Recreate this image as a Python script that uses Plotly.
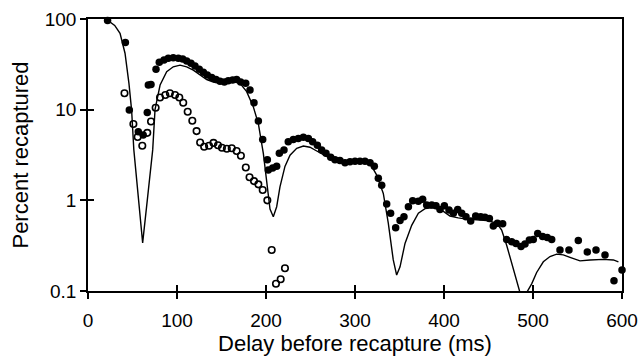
import plotly.graph_objects as go

# Filled circles (measured recapture)
filled_x = [22, 42, 46.4, 56.5, 62, 66.6, 67.8, 70.8, 76.4, 80.1, 85.4, 90.2, 95.8, 101.5, 106.4,
            110.9, 115.7, 120.2, 125, 129.6, 134, 139, 143.8, 148.3, 153.2, 157.6, 162.5, 167,
            171.5, 177.2, 182, 186.5, 191.4, 196.3, 201.5, 202.6, 207.5, 212, 215, 220.2, 225,
            230.7, 236.3, 242, 247.6, 252.4, 257.7, 262.5, 267.4, 272.7, 277.5, 283.1, 288.8,
            294.4, 300, 305.6, 311.2, 316.9, 321.7, 326.2, 330, 335.6, 340, 345.7, 350.6, 355,
            360, 364.8, 371.2, 376, 380.5, 386.2, 391, 395.5, 400.4, 405.6, 410.5, 415.4, 419.9,
            424.7, 430, 435.6, 441.2, 446, 451, 455.4, 460, 465.9, 470.4, 476, 480.9, 486.5,
            491, 495.9, 500.3, 505.3, 510.8, 516, 521, 530.3, 540.4, 550.9, 561, 570.8, 580.9,
            591, 600]
filled_y = [96, 55, 9.9, 5.7, 5.25, 9.3, 18.7, 19, 27.9, 33.3, 35.3, 36.8, 37.3, 36.8, 36.1,
            34.4, 32.5, 30.4, 27.9, 25.8, 24.1, 22.7, 21.5, 20.6, 20.2, 20.8, 21.2, 21.5,
            20.2, 19.5, 16.5, 11.9, 7.5, 4.7, 2.8, 2.16, 2.27, 2.37, 3.3, 3.6, 4.43,
            4.7, 4.8, 4.95, 4.8, 4.43, 4.05, 3.6, 3.3, 2.98, 2.8, 2.75, 2.6,
            2.67, 2.7, 2.7, 2.7, 2.6, 2.37, 1.75, 1.47, 0.91, 0.72, 0.50, 0.6, 0.66,
            0.85, 0.99, 0.98, 1.03, 0.89, 0.89, 0.87, 0.79, 0.87, 0.78, 0.72, 0.79, 0.72,
            0.66, 0.59, 0.67, 0.66, 0.65, 0.63, 0.52, 0.56, 0.55, 0.37, 0.35, 0.335, 0.31,
            0.33, 0.365, 0.37, 0.43, 0.40, 0.39, 0.37, 0.283, 0.283, 0.36, 0.27, 0.283, 0.25,
            0.13, 0.17]

# Open circles
open_x = [41, 51, 55.8, 61, 66.6, 70.8, 76, 80.9, 86.9, 92, 97.8, 102.6, 107, 112, 117.2, 122,
          126, 130.5, 136, 141, 146, 150.5, 156, 161.5, 167, 171.8, 177.3, 181.5, 186.5, 191.4,
          196.3, 201.5, 206.4, 211.2, 216.5, 221.3]
open_y = [15.2, 6.95, 5.0, 4.0, 5.55, 7.4, 10.5, 13.6, 14.5, 15.2, 14.5, 13.6, 11.9, 9.5, 7.55, 5.8,
          4.35, 3.9, 4.0, 4.3, 4.05, 3.8, 3.7, 3.75, 3.5, 3.1, 2.3, 1.8, 1.63, 1.5,
          1.3, 1.0, 0.283, 0.12, 0.135, 0.178]

# Model curve
model_x = [20, 22, 30, 36, 41.6, 46, 49, 51.5, 56.5, 61.4, 66.6, 72.7, 75.3, 81, 88.4, 95.8,
           103.4, 110.9, 118.3, 125.8, 133.4, 140.8, 148.3, 155.8, 163.3, 170.8, 178.3, 185.7,
           191.4, 197, 201.5, 204.5, 208.2, 212, 215.7, 221.3, 227, 234.5, 242, 249.4, 257,
           264.4, 272, 283, 294, 305.6, 316.9, 324.4, 331.8, 337.4, 343, 346.8, 350.6, 356.2,
           363.7, 371.2, 378.7, 388, 397.4, 406.7, 416, 425.5, 436.7, 448, 459.2, 464.8, 470.4,
           476, 481.7, 485.4, 489, 492.9, 498.5, 504.1, 511.6, 519.1, 526.6, 534, 541.6, 552.8,
           564, 579, 590.3, 596]
model_y = [100, 97, 85, 69.5, 41.9, 19.5, 9.9, 3.6, 1.0, 0.34, 1.0, 3.6, 10, 18.7, 26.2, 29.7,
           31, 29.7, 27.3, 24.1, 21.5, 20.2, 19.7, 20.2, 20.8, 19.5, 15.8, 10.8,
           7.0, 3.3, 1.53, 0.8, 0.66, 0.85, 1.41, 2.37, 3.15, 3.75, 3.97, 3.85, 3.5,
           3.2, 2.9, 2.7, 2.67, 2.67, 2.55, 1.9, 1.19, 0.56, 0.22, 0.15, 0.185, 0.335,
           0.53, 0.72, 0.81, 0.83, 0.78, 0.67, 0.64, 0.62, 0.61, 0.60, 0.56, 0.47, 0.32,
           0.2, 0.125, 0.096, 0.085, 0.096, 0.12, 0.16, 0.21, 0.24, 0.255, 0.25, 0.235, 0.215,
           0.22, 0.223, 0.22, 0.21]

x_ticks = [0, 100, 200, 300, 400, 500, 600]
y_ticks = [0.1, 1, 10, 100]
y_ticktext = ["0.1", "1", "10", "100"]

FONT = "Liberation Sans, Arial, Helvetica, sans-serif"

fig = go.Figure()
fig.add_trace(go.Scatter(x=model_x, y=model_y, mode="lines", line=dict(color="black", width=1.4),
                         showlegend=False, hoverinfo="skip"))
fig.add_trace(go.Scatter(x=open_x, y=open_y, mode="markers",
                         marker=dict(symbol="circle-open", size=6.5, color="black", line=dict(width=1.6)),
                         showlegend=False, cliponaxis=False))
fig.add_trace(go.Scatter(x=filled_x, y=filled_y, mode="markers",
                         marker=dict(symbol="circle", size=7.5, color="black"),
                         showlegend=False, cliponaxis=False))
# invisible trace to carry the inside-tick overlay axes
fig.add_trace(go.Scatter(x=[x_ticks[0]], y=[y_ticks[1]], xaxis="x2", yaxis="y2", mode="markers",
                         marker=dict(opacity=0), showlegend=False, hoverinfo="skip"))

axis_common = dict(showgrid=False, zeroline=False, linecolor="black", linewidth=1.5,
                   tickcolor="black", tickwidth=1.5, ticklen=6, automargin=False,
                   tickfont=dict(family=FONT, size=19, color="black"))

fig.update_layout(
    width=641, height=358,
    margin=dict(l=88, r=19, t=19, b=67),
    paper_bgcolor="white", plot_bgcolor="white",
    xaxis=dict(range=[0, 600], tickvals=x_ticks, ticks="outside", showline=True, mirror=True,
               ticklabelstandoff=5,
               title=dict(text="Delay before recapture (ms)", font=dict(family=FONT, size=22, color="black"),
                          standoff=4),
               **axis_common),
    yaxis=dict(type="log", range=[-1, 2], tickvals=y_ticks, ticktext=y_ticktext, ticks="outside",
               showline=True, mirror=True,
               title=dict(text="Percent recaptured", font=dict(family=FONT, size=22, color="black"),
                          standoff=10),
               **axis_common),
    xaxis2=dict(range=[0, 600], tickvals=x_ticks, ticks="inside", overlaying="x", anchor="y2",
                side="bottom", showticklabels=False, showline=False, showgrid=False, zeroline=False,
                tickcolor="black", tickwidth=1.5, ticklen=6, automargin=False),
    yaxis2=dict(type="log", range=[-1, 2], tickvals=y_ticks, ticks="inside", overlaying="y", anchor="x2",
                side="left", showticklabels=False, showline=False, showgrid=False, zeroline=False,
                tickcolor="black", tickwidth=1.5, ticklen=6, automargin=False),
)

fig.write_html("out.html")
